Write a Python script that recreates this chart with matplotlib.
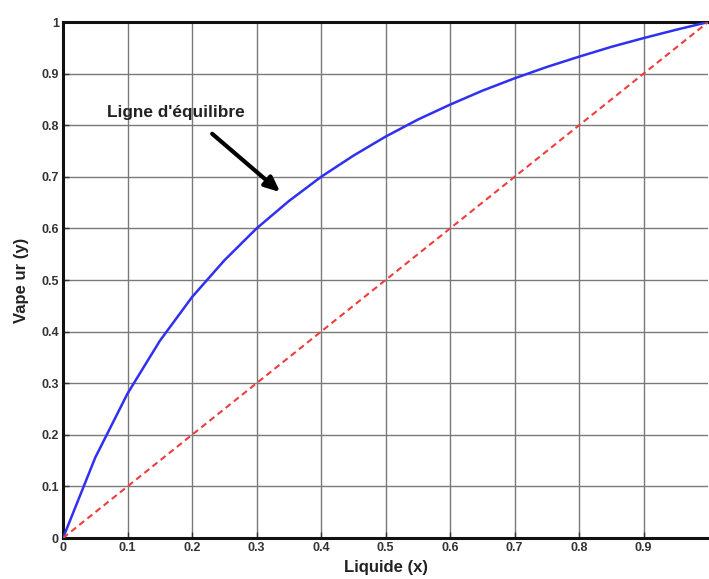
import matplotlib
matplotlib.use("Agg")
import matplotlib.pyplot as plt

# Liquid / vapour mole fractions of the light component
x_liq = [0.0, 0.05, 0.1, 0.15, 0.2, 0.25, 0.3, 0.35, 0.4, 0.45, 0.5,
         0.55, 0.6, 0.65, 0.7, 0.75, 0.8, 0.85, 0.9, 0.95, 1.0]
y_vap = [0.0, 0.156, 0.28, 0.382, 0.467, 0.538, 0.60, 0.653, 0.70, 0.741, 0.778,
         0.811, 0.84, 0.867, 0.891, 0.913, 0.933, 0.952, 0.969, 0.985, 1.0]
diag = [0.0, 1.0]

x_ticks = [0, 0.1, 0.2, 0.3, 0.4, 0.5, 0.6, 0.7, 0.8, 0.9]
x_tick_labels = ["0", "0.1", "0.2", "0.3", "0.4", "0.5", "0.6", "0.7", "0.8", "0.9"]
y_ticks = [0, 0.1, 0.2, 0.3, 0.4, 0.5, 0.6, 0.7, 0.8, 0.9, 1.0]
y_tick_labels = ["0", "0.1", "0.2", "0.3", "0.4", "0.5", "0.6", "0.7", "0.8", "0.9", "1"]

plt.rcParams["font.family"] = ["Liberation Sans", "DejaVu Sans"]
plt.rcParams["font.weight"] = "bold"

fig = plt.figure(figsize=(7.09, 5.79), dpi=100)
ax = fig.add_axes([0.0889, 0.0708, 0.9097, 0.891])

ax.plot(x_liq, y_vap, color="#3030f0", lw=1.8, zorder=3)
ax.plot(diag, diag, color="#f03c3c", lw=1.5, ls=(0, (3, 2)), zorder=3)

ax.set_xlim(0, 1)
ax.set_ylim(0, 1)
ax.set_xticks(x_ticks)
ax.set_xticklabels(x_tick_labels)
ax.set_yticks(y_ticks)
ax.set_yticklabels(y_tick_labels)
ax.tick_params(direction="in", length=4, width=1, labelsize=9, pad=3, colors="#333333")
for lbl in ax.get_xticklabels() + ax.get_yticklabels():
    lbl.set_fontweight("bold")

ax.grid(True, color="#7a7a7a", lw=1.0, ls="-")
ax.set_axisbelow(True)
for side in ["left", "top", "bottom"]:
    ax.spines[side].set_linewidth(2.2)
    ax.spines[side].set_color("#111111")
ax.spines["right"].set_visible(False)

ax.set_xlabel("Liquide (x)", fontsize=12, fontweight="bold", labelpad=4, color="#222222")
ax.set_ylabel("Vape ur (y)", fontsize=12, fontweight="bold", labelpad=9, color="#222222")

ax.text(0.068, 0.824, "Ligne d'équilibre", fontsize=12.4, fontweight="bold",
        color="#222222", va="center", ha="left")
ax.annotate("", xy=(0.340, 0.667), xytext=(0.228, 0.787),
            arrowprops=dict(arrowstyle="-|>,head_length=0.9,head_width=0.4",
                            color="black", lw=3))

fig.savefig("out.png", dpi=100)
